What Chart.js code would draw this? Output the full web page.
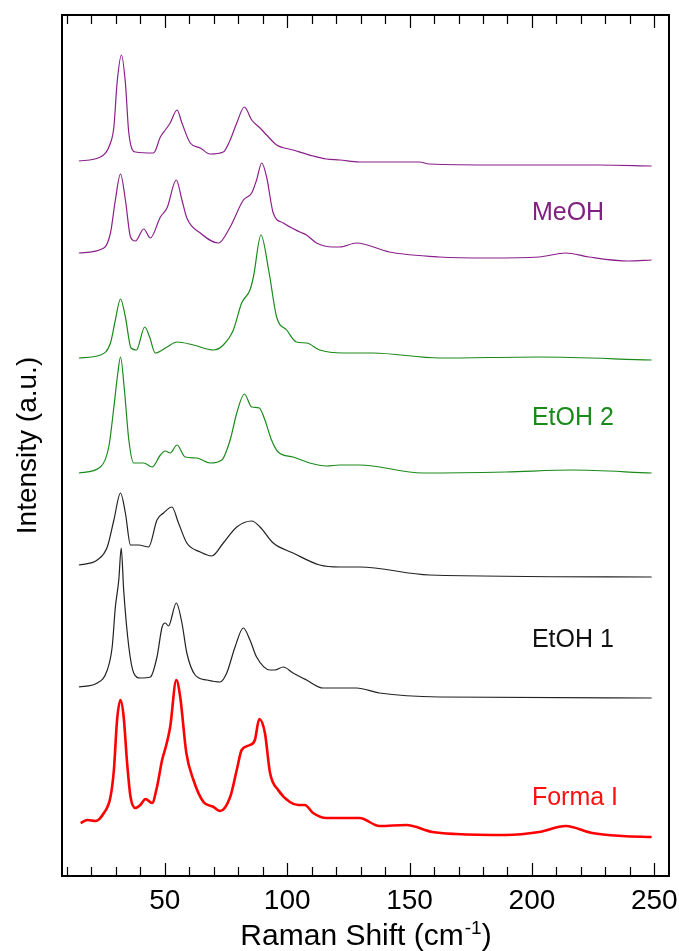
<!DOCTYPE html>
<html>
<head>
<meta charset="utf-8">
<title>Raman spectra</title>
<script src="https://cdn.jsdelivr.net/npm/chart.js@4.4.1/dist/chart.umd.min.js"></script>
<style>
    html, body { margin: 0; padding: 0; background: #fff; }
    #ramanChart { display: block; }
</style>
</head>
<body>
<canvas id="ramanChart" width="679" height="951"></canvas>
<script>
// Spectra: [Raman shift (cm-1), intensity (a.u., stacked offset included)]
const meohTop = [[14.9,715],[23.7,719],[27.8,733],[29.2,749],[30.5,793],[32.3,821],[33.9,793],[35.3,743],[38.0,724],[45.4,723],[48.2,739],[50.2,746],[52.2,753],[55.0,766],[57.0,753],[60.4,733],[64.5,728],[68.5,722],[73.9,724],[76.7,736],[79.4,753],[82.5,769],[85.5,756],[88.9,748],[91.6,741],[95.7,731],[102.4,726],[110.6,720],[116.0,717],[121.5,716],[129.6,714],[154.0,714],[158.1,712],[186.6,711],[227.3,711],[248.9,710]];
const meohLow = [[14.9,623],[25.1,628],[27.8,643],[29.8,676],[31.9,702],[33.9,676],[36.0,639],[38.0,635],[41.4,647],[44.1,638],[48.2,659],[50.9,668],[54.7,696],[57.0,676],[59.0,658],[64.5,643],[71.9,633],[76.7,649],[82.1,676],[85.5,683],[87.5,696],[89.6,713],[91.6,699],[94.3,663],[98.4,653],[105.2,644],[107.9,641],[112.0,633],[118.7,629],[121.5,629],[128.3,633],[141.8,624],[162.2,619],[182.5,618],[202.9,619],[213.8,623],[223.3,619],[239.5,615],[248.9,616]];
const etoh2Top = [[14.9,518],[23.7,521],[27.8,533],[29.8,556],[31.9,577],[33.9,559],[36.2,528],[38.4,526],[41.8,549],[43.8,539],[46.1,523],[50.9,529],[55.0,534],[61.7,531],[69.9,526],[73.9,531],[78.0,546],[81.4,573],[84.8,586],[86.2,599],[89.3,641],[92.5,605],[95.7,559],[99.8,546],[103.8,534],[107.9,533],[113.3,526],[122.8,523],[134.9,523],[162.2,518],[202.9,519],[248.9,516]];
const etoh2Low = [[14.9,403],[23.7,409],[27.1,429],[29.2,469],[30.8,503],[31.9,519],[33.5,486],[35.3,436],[37.3,413],[41.4,413],[44.8,409],[48.2,421],[50.2,425],[52.2,423],[55.0,431],[58.3,419],[63.1,418],[68.5,413],[73.3,416],[76.7,436],[79.4,463],[82.5,482],[85.5,469],[88.6,468],[90.9,456],[93.6,436],[96.3,424],[102.4,419],[109.2,413],[116.0,410],[121.5,411],[129.6,411],[155.3,403],[189.3,404],[216.3,406],[248.9,403]];
const etoh1Top = [[14.9,311],[22.4,316],[26.5,329],[29.2,356],[31.9,383],[33.9,363],[36.0,331],[39.3,331],[43.4,329],[46.8,356],[49.5,363],[52.9,369],[55.6,353],[59.0,333],[64.5,324],[69.2,320],[73.9,333],[79.4,349],[85.5,355],[88.9,349],[94.3,333],[102.4,323],[113.3,311],[121.5,309],[129.6,309],[158.1,301],[248.9,299]];
const etoh1Low = [[14.9,189],[22.4,193],[26.5,206],[28.5,229],[29.8,269],[31.2,296],[32.2,328],[33.2,286],[35.3,229],[37.3,203],[40.0,198],[44.1,199],[46.8,219],[48.9,249],[50.2,253],[51.5,250],[54.7,273],[57.0,253],[59.0,223],[62.4,201],[67.2,196],[72.6,194],[75.3,203],[78.7,229],[82.1,248],[84.8,236],[87.5,219],[93.0,206],[95.0,206],[98.4,209],[102.4,203],[107.9,196],[114.7,188],[121.5,188],[128.3,188],[137.7,183],[162.2,179],[248.9,178]];
const formaI = [[15.6,53],[18.3,56],[21.7,55],[25.1,63],[27.8,79],[29.2,106],[30.5,156],[31.9,176],[33.2,159],[34.6,113],[36.0,79],[38.0,68],[40.0,71],[42.1,77],[44.8,73],[46.8,89],[48.9,116],[50.6,131],[52.2,149],[54.7,196],[56.3,179],[58.8,123],[61.7,96],[65.8,74],[69.9,69],[72.6,65],[76.7,79],[79.4,106],[81.4,126],[84.8,131],[86.8,136],[88.6,157],[90.9,143],[93.0,103],[96.3,86],[101.1,74],[104.5,71],[107.2,71],[110.6,63],[116.0,58],[121.5,58],[129.6,58],[137.7,50],[148.6,51],[159.4,44],[169.0,42],[189.3,41],[202.9,44],[213.8,50],[224.6,43],[236.8,40],[248.9,39]];

// axis ticks
const xTicks = [50, 100, 150, 200, 250];
const minorTicks = [10, 20, 30, 40, 50, 60, 70, 80, 90, 100, 110, 120, 130, 140, 150, 160, 170, 180, 190, 200, 210, 220, 230, 240, 250];

// sample names written inside the plot (left edge at 200 cm-1)
const sampleNames = ['MeOH', 'EtOH 2', 'EtOH 1', 'Forma I'];
const sampleNameY = [663, 458, 236, 78];
const sampleColors = ['#80207f', '#1a8a1a', '#111111', '#ff1010'];

const FONT = '"Liberation Sans", Arial, sans-serif';

const toPoints = arr => arr.map(p => ({ x: p[0], y: p[1] }));

function spectrum(arr, color, width) {
    return {
        data: toPoints(arr),
        borderColor: color,
        borderWidth: width,
        pointRadius: 0,
        fill: false,
        cubicInterpolationMode: 'monotone'
    };
}

// frame, inward ticks, sample names and x title (superscript)
const decorations = {
    id: 'decorations',
    afterDraw(chart) {
        const ctx = chart.ctx;
        const area = chart.chartArea;
        const xs = chart.scales.x;
        const ys = chart.scales.y;
        ctx.save();

        ctx.strokeStyle = '#000';
        ctx.lineWidth = 1.2;
        minorTicks.forEach(v => {
            const px = Math.round(xs.getPixelForValue(v)) + 0.5;
            const len = v % 50 === 0 ? 13 : 9;
            ctx.beginPath();
            ctx.moveTo(px, area.top);
            ctx.lineTo(px, area.top + len);
            ctx.moveTo(px, area.bottom);
            ctx.lineTo(px, area.bottom - len);
            ctx.stroke();
        });

        ctx.lineWidth = 2;
        ctx.strokeRect(area.left, area.top, area.right - area.left, area.bottom - area.top);

        ctx.font = '25px ' + FONT;
        ctx.textAlign = 'left';
        ctx.textBaseline = 'middle';
        sampleNames.forEach((name, i) => {
            ctx.fillStyle = sampleColors[i];
            ctx.fillText(name, xs.getPixelForValue(200), ys.getPixelForValue(sampleNameY[i]));
        });

        // x axis title with superscript
        const main = 'Raman Shift (cm';
        const sup = '-1';
        const close = ')';
        ctx.fillStyle = '#000';
        ctx.textBaseline = 'alphabetic';
        ctx.font = '30px ' + FONT;
        const w1 = ctx.measureText(main).width;
        const w3 = ctx.measureText(close).width;
        ctx.font = '19px ' + FONT;
        const w2 = ctx.measureText(sup).width;
        const total = w1 + w2 + w3;
        let x0 = (area.left + area.right) / 2 - total / 2;
        const base = 945;
        ctx.font = '30px ' + FONT;
        ctx.fillText(main, x0, base);
        ctx.font = '19px ' + FONT;
        ctx.fillText(sup, x0 + w1 + 1, base - 11);
        ctx.font = '30px ' + FONT;
        ctx.fillText(close, x0 + w1 + w2 + 1, base);
        ctx.restore();
    }
};

window.addEventListener('DOMContentLoaded', () => {
    const ctx = document.getElementById('ramanChart').getContext('2d');

    new Chart(ctx, {
        type: 'line',
        data: {
            datasets: [
                spectrum(meohTop, '#8a1f8a', 1.2),
                spectrum(meohLow, '#8a1f8a', 1.2),
                spectrum(etoh2Top, '#1a8a1a', 1.2),
                spectrum(etoh2Low, '#1a8a1a', 1.2),
                spectrum(etoh1Top, '#222222', 1.2),
                spectrum(etoh1Low, '#222222', 1.2),
                spectrum(formaI, '#ff0000', 2.6)
            ]
        },
        options: {
            responsive: false,
            animation: false,
            layout: { padding: { top: 15, right: 10, left: 0, bottom: 0 } },
            plugins: {
                legend: { display: false },
                tooltip: { enabled: false }
            },
            scales: {
                x: {
                    type: 'linear',
                    min: 8,
                    max: 256,
                    grid: { display: false, drawTicks: false },
                    border: { display: false },
                    afterBuildTicks: axis => {
                        axis.ticks = xTicks.map(v => ({ value: v }));
                    },
                    afterFit: axis => {
                        axis.height = 75;
                        // the "250" label may overhang the frame, as in the original
                        axis.paddingLeft = 0;
                        axis.paddingRight = 0;
                    },
                    ticks: {
                        color: '#000',
                        font: { family: FONT, size: 28 },
                        padding: 8,
                        maxRotation: 0,
                        autoSkip: false
                    }
                },
                y: {
                    min: 0,
                    max: 861,
                    grid: { display: false, drawTicks: false },
                    border: { display: false },
                    ticks: { display: false },
                    afterFit: axis => { axis.width = 62; },
                    title: {
                        display: true,
                        text: 'Intensity (a.u.)',
                        color: '#000',
                        font: { family: FONT, size: 28 },
                        padding: { top: 11, bottom: 0 }
                    }
                }
            }
        },
        plugins: [decorations]
    });
});
</script>
</body>
</html>
